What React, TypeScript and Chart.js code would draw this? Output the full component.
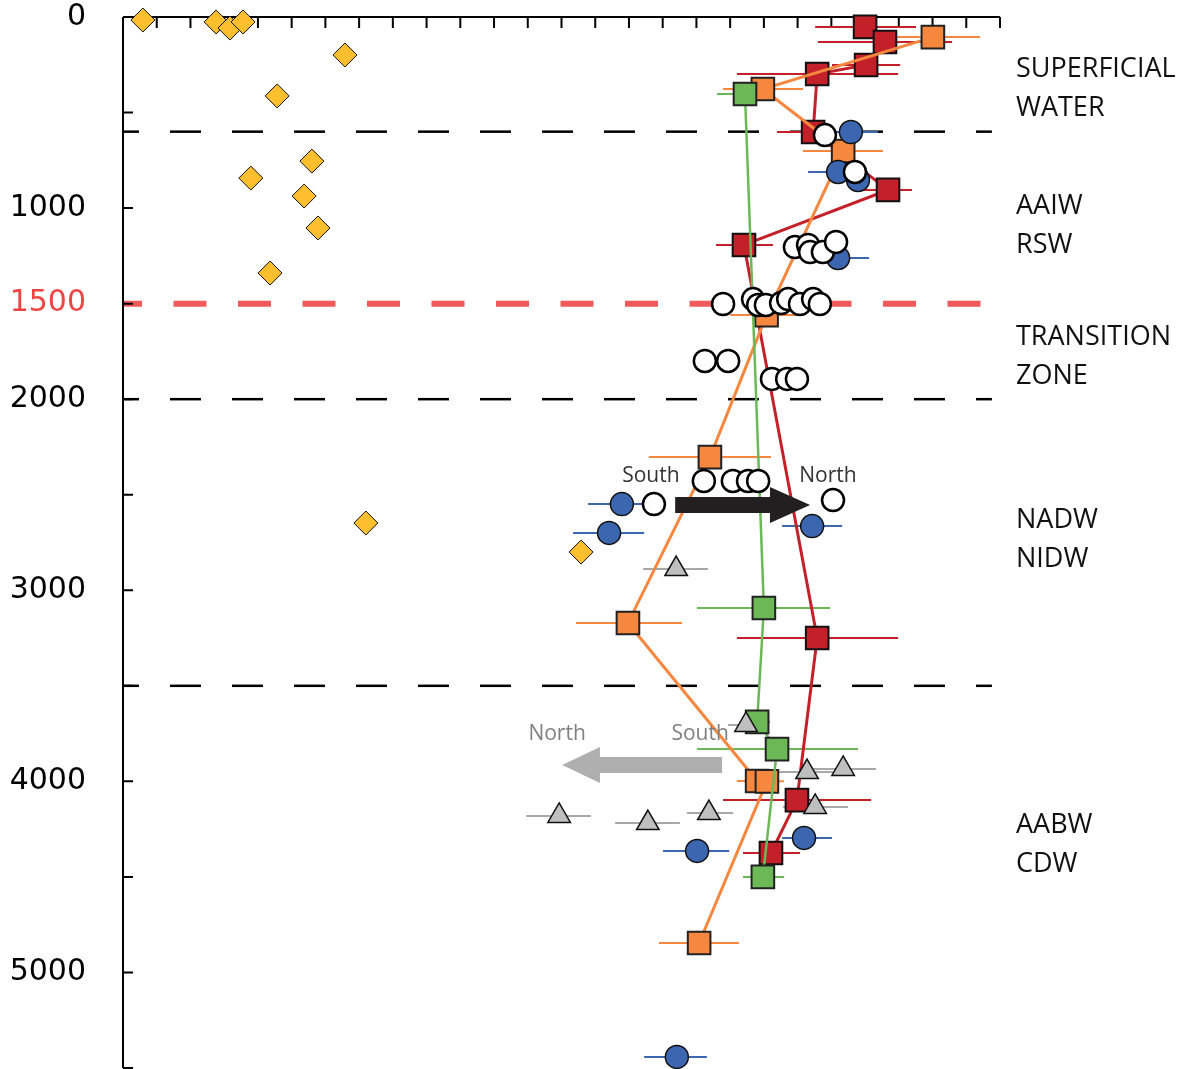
import React, { useEffect, useRef } from "react";
import { Chart, registerables } from "chart.js";

Chart.register(...registerables);

// ---------- data (x: index units on the top axis, depth in metres) ----------
const depthTickLabels = [0, 1000, 1500, 2000, 3000, 4000, 5000];
const highlightDepth = 1500;
const boundaryDepths = [600, 2000, 3500];
const zoneLabels = [
  ["SUPERFICIAL", "WATER"],
  ["AAIW", "RSW"],
  ["TRANSITION", "ZONE"],
  ["NADW", "NIDW"],
  ["AABW", "CDW"],
];
const zoneLabelDepths = [378, 1095, 1776, 2734, 4331];

const yellowX = [0.59, 2.76, 3.17, 3.56, 6.58, 4.57, 5.6, 3.79, 5.37, 5.78, 4.36, 7.2, 13.58];
const yellowD = [16, 26, 58, 26, 199, 413, 754, 843, 937, 1104, 1340, 2648, 2800];

const redX = [22.0, 22.59, 22.03, 20.58, 20.46, 22.68, 18.41, 20.58, 19.98, 19.21];
const redD = [52, 131, 251, 298, 602, 905, 1193, 3250, 4098, 4375];
const redLo = [20.52, 20.6, 21.02, 18.2, 19.39, 21.85, 17.58, 18.2, 17.79, 18.38];
const redHi = [23.51, 24.58, 23.04, 22.98, 21.55, 23.39, 19.27, 22.98, 22.18, 20.07];

const orangeX = [24.01, 18.97, 21.35, 19.08, 17.4, 14.97, 18.8, 19.09, 17.08];
const orangeD = [105, 377, 701, 1560, 2303, 3171, 3998, 4000, 4846];
const orangeLo = [22.44, 17.79, 20.16, 18.0, 15.59, 13.43, 18.2, 18.4, 15.89];
const orangeHi = [25.41, 20.16, 22.53, 19.98, 19.21, 16.57, 19.3, 19.6, 18.26];

const greenX = [18.44, 19.0, 18.8, 19.39, 18.97];
const greenD = [403, 3093, 3689, 3831, 4500];
const greenLo = [17.61, 17.02, 18.29, 17.02, 18.38];
const greenHi = [18.9, 20.96, 19.18, 21.79, 19.6];

const blueX = [21.58, 21.2, 21.79, 21.2, 14.79, 14.41, 20.43, 20.19, 17.02, 16.42];
const blueD = [602, 811, 853, 1261, 2549, 2700, 2664, 4296, 4364, 5442];
const blueLo = [20.72, 20.31, 21.79, 20.37, 13.79, 13.34, 19.54, 19.54, 16.01, 15.45];
const blueHi = [22.38, 22.09, 21.79, 22.12, 15.48, 15.45, 21.32, 21.02, 17.97, 17.31];

const whiteX = [
  20.81, 21.7, 19.92, 20.31, 20.37, 20.75, 21.14,
  17.79, 18.68, 18.83, 19.06, 19.51, 19.72, 20.07, 20.46, 20.66,
  17.25, 17.94, 19.24, 19.69, 19.98,
  17.22, 18.08, 18.53, 18.83, 15.74, 21.05,
];
const whiteD = [
  618, 811, 1204, 1193, 1230, 1230, 1177,
  1502, 1476, 1507, 1507, 1497, 1476, 1502, 1476, 1502,
  1800, 1800, 1894, 1894, 1894,
  2428, 2428, 2428, 2428, 2549, 2528,
];

const grayX = [16.4, 18.47, 20.28, 21.35, 20.52, 12.93, 15.56, 17.37];
const grayD = [2889, 3705, 3951, 3935, 4134, 4181, 4218, 4166];
const grayLo = [15.42, 17.94, 19.33, 20.13, 19.57, 11.95, 14.59, 16.72];
const grayHi = [17.34, 18.7, 21.26, 22.32, 21.49, 13.87, 16.51, 18.09];

// arrows: [tailX, headBaseX, tipX, depth]
const blackArrow = [16.37, 19.18, 20.37, 2554];
const grayArrow = [17.76, 14.14, 13.02, 3914];
const blackArrowLabels = [["South", 15.65, 2400], ["North", 20.9, 2400]];
const grayArrowLabels = [["North", 12.87, 3752], ["South", 17.11, 3752]];

// ---------- helpers ----------
const pts = (xs: number[], ds: number[]) => xs.map((x, i) => ({ x, y: ds[i] }));

const COLORS = {
  red: "#C4202A",
  orange: "#F5873F",
  green: "#6CB857",
  blue: "#3D66B0",
  yellow: "#FDBF2D",
  gray: "#BFBFBF",
  grayBar: "#A8A8A8",
};

const errorSets = [
  { xs: redLo, hs: redHi, ds: redD, color: COLORS.red },
  { xs: orangeLo, hs: orangeHi, ds: orangeD, color: COLORS.orange },
  { xs: greenLo, hs: greenHi, ds: greenD, color: COLORS.green },
  { xs: blueLo, hs: blueHi, ds: blueD, color: COLORS.blue },
  { xs: grayLo, hs: grayHi, ds: grayD, color: COLORS.grayBar },
];

function drawArrow(ctx: CanvasRenderingContext2D, sx: any, sy: any, a: number[], color: string) {
  const tail = sx.getPixelForValue(a[0]);
  const base = sx.getPixelForValue(a[1]);
  const tip = sx.getPixelForValue(a[2]);
  const y = sy.getPixelForValue(a[3]);
  const sh = 8;
  const hh = 18;
  ctx.save();
  ctx.fillStyle = color;
  ctx.beginPath();
  ctx.moveTo(tail, y - sh);
  ctx.lineTo(base, y - sh);
  ctx.lineTo(base, y - hh);
  ctx.lineTo(tip, y);
  ctx.lineTo(base, y + hh);
  ctx.lineTo(base, y + sh);
  ctx.lineTo(tail, y + sh);
  ctx.closePath();
  ctx.fill();
  ctx.restore();
}

const overlayPlugin = {
  id: "overlay",
  beforeDatasetsDraw(chart: any) {
    const { ctx, chartArea } = chart;
    const sx = chart.scales.x;
    const sy = chart.scales.y;
    ctx.save();
    // boundaries
    ctx.lineCap = "butt";
    boundaryDepths.forEach((d) => {
      const py = sy.getPixelForValue(d);
      ctx.beginPath();
      ctx.setLineDash([31, 31]);
      ctx.lineDashOffset = 15;
      ctx.strokeStyle = "#000";
      ctx.lineWidth = 2.5;
      ctx.moveTo(chartArea.left, py);
      ctx.lineTo(sx.getPixelForValue(25.76), py);
      ctx.stroke();
    });
    {
      const py = sy.getPixelForValue(highlightDepth);
      ctx.beginPath();
      ctx.setLineDash([33, 31.5]);
      ctx.lineDashOffset = 14;
      ctx.strokeStyle = "#F05A5A";
      ctx.lineWidth = 6;
      ctx.moveTo(chartArea.left, py);
      ctx.lineTo(chartArea.right, py);
      ctx.stroke();
    }
    ctx.setLineDash([]);
    // axes
    ctx.strokeStyle = "#000";
    ctx.lineWidth = 2;
    ctx.beginPath();
    ctx.moveTo(chartArea.left, chartArea.top);
    ctx.lineTo(chartArea.right, chartArea.top);
    ctx.moveTo(chartArea.left, chartArea.top);
    ctx.lineTo(chartArea.left, chartArea.bottom);
    ctx.stroke();
    ctx.beginPath();
    for (let v = sx.min; v <= sx.max; v += 1) {
      const px = sx.getPixelForValue(v);
      ctx.moveTo(px, chartArea.top);
      ctx.lineTo(px, chartArea.top + 11);
    }
    sy.ticks.forEach((t: any) => {
      const py = sy.getPixelForValue(t.value);
      ctx.moveTo(chartArea.left, py);
      ctx.lineTo(chartArea.left + 10, py);
    });
    ctx.stroke();
    // error bars
    ctx.lineWidth = 2;
    errorSets.forEach((s) => {
      ctx.strokeStyle = s.color;
      s.ds.forEach((d, i) => {
        if (s.hs[i] - s.xs[i] < 0.05) return;
        const py = sy.getPixelForValue(d);
        ctx.beginPath();
        ctx.moveTo(sx.getPixelForValue(s.xs[i]), py);
        ctx.lineTo(sx.getPixelForValue(s.hs[i]), py);
        ctx.stroke();
      });
    });
    ctx.restore();
  },
  afterDatasetsDraw(chart: any) {
    const { ctx, chartArea } = chart;
    const sx = chart.scales.x;
    const sy = chart.scales.y;
    drawArrow(ctx, sx, sy, blackArrow, "#231F20");
    drawArrow(ctx, sx, sy, grayArrow, "#AFAFAF");
    ctx.save();
    ctx.textAlign = "center";
    ctx.textBaseline = "middle";
    ctx.font = '21px "Open Sans"';
    ctx.fillStyle = "#333333";
    blackArrowLabels.forEach((l: any) => {
      ctx.fillText(l[0], sx.getPixelForValue(l[1]), sy.getPixelForValue(l[2]));
    });
    ctx.fillStyle = "#808080";
    grayArrowLabels.forEach((l: any) => {
      ctx.fillText(l[0], sx.getPixelForValue(l[1]), sy.getPixelForValue(l[2]));
    });
    // zone labels
    ctx.textAlign = "left";
    ctx.font = '27px "Open Sans"';
    ctx.fillStyle = "#111";
    zoneLabels.forEach((lines, i) => {
      const cy = sy.getPixelForValue(zoneLabelDepths[i]);
      lines.forEach((txt, j) => {
        ctx.fillText(txt, chartArea.right + 16, cy + (j - (lines.length - 1) / 2) * 39);
      });
    });
    ctx.restore();
  },
};

export default function App() {
  const ref = useRef<HTMLCanvasElement | null>(null);
  useEffect(() => {
    if (!ref.current) return;
    const common = { clip: false as any, showLine: false };
    const chart = new Chart(ref.current, {
      type: "scatter",
      data: {
        datasets: [
          {
            ...common,
            label: "gray",
            data: pts(grayX, grayD),
            pointStyle: "triangle",
            pointRadius: 13,
            backgroundColor: COLORS.gray,
            borderColor: "#111",
            borderWidth: 1.5,
          },
          {
            ...common,
            label: "white",
            data: pts(whiteX, whiteD),
            pointStyle: "circle",
            pointRadius: 11,
            backgroundColor: "#FFFFFF",
            borderColor: "#000",
            borderWidth: 2.5,
          },
          {
            ...common,
            label: "blue",
            data: pts(blueX, blueD),
            pointStyle: "circle",
            pointRadius: 11.5,
            backgroundColor: COLORS.blue,
            borderColor: "#111",
            borderWidth: 1.5,
          },
          {
            ...common,
            showLine: true,
            label: "green",
            data: pts(greenX, greenD),
            pointStyle: "rect",
            pointRadius: 16,
            backgroundColor: COLORS.green,
            borderColor: COLORS.green,
            pointBorderColor: "#222",
            pointBorderWidth: 2,
            borderWidth: 2.5,
          },
          {
            ...common,
            showLine: true,
            label: "orange",
            data: pts(orangeX, orangeD),
            pointStyle: "rect",
            pointRadius: 16,
            backgroundColor: COLORS.orange,
            borderColor: COLORS.orange,
            pointBorderColor: "#222",
            pointBorderWidth: 2,
            borderWidth: 3,
          },
          {
            ...common,
            showLine: true,
            label: "red",
            data: pts(redX, redD),
            pointStyle: "rect",
            pointRadius: 16,
            backgroundColor: COLORS.red,
            borderColor: COLORS.red,
            pointBorderColor: "#111",
            pointBorderWidth: 2,
            borderWidth: 3,
          },
          {
            ...common,
            label: "yellow",
            data: pts(yellowX, yellowD),
            pointStyle: "rectRot",
            pointRadius: 12,
            backgroundColor: COLORS.yellow,
            borderColor: "#111",
            borderWidth: 1,
          },
        ],
      },
      options: {
        animation: false,
        responsive: true,
        maintainAspectRatio: false,
        layout: { autoPadding: false, padding: { top: 17, right: 183, bottom: 1, left: 0 } },
        plugins: { legend: { display: false }, tooltip: { enabled: false } },
        elements: { line: { tension: 0 } },
        scales: {
          x: { type: "linear", display: false, min: 0, max: 26 },
          y: {
            type: "linear",
            reverse: true,
            min: 0,
            max: 5500,
            position: "left",
            afterFit: (s: any) => {
              s.width = 123;
              s.paddingTop = 0;
              s.paddingBottom = 0;
            },
            grid: { display: false, drawTicks: false },
            border: { display: false },
            ticks: {
              stepSize: 500,
              autoSkip: false,
              padding: 37,
              font: { family: "DejaVu Sans", size: 30, lineHeight: 0.05 },
              color: (c: any) => (c.tick && c.tick.value === highlightDepth ? "#EF4444" : "#000"),
              callback: (v: any) => (depthTickLabels.includes(Number(v)) ? String(v) : ""),
            },
          },
        },
      },
      plugins: [overlayPlugin],
    } as any);
    return () => chart.destroy();
  }, []);
  return (
    <div style={{ position: "fixed", left: 0, top: 0, width: 1183, height: 1069, background: "#fff" }}>
      <canvas ref={ref} />
    </div>
  );
}
